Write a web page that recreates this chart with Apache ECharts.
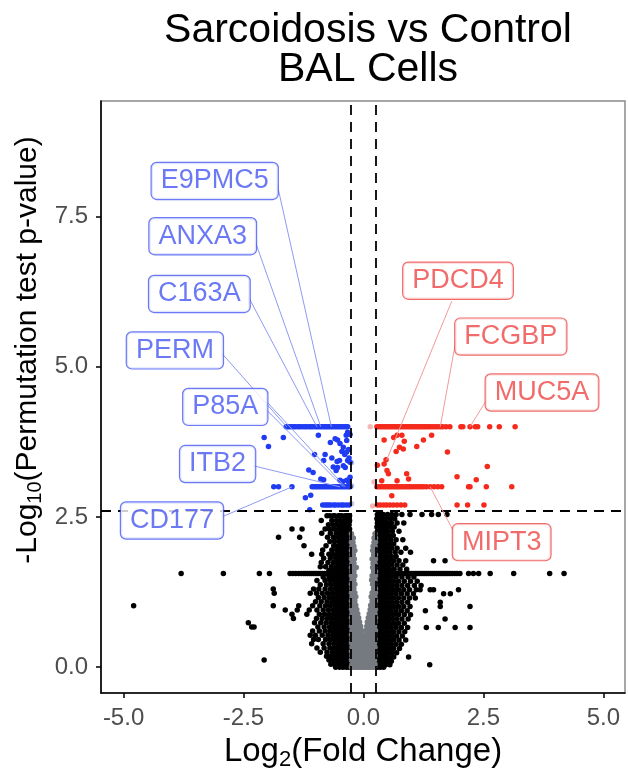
<!DOCTYPE html>
<html>
<head>
<meta charset="utf-8">
<script src="https://cdn.jsdelivr.net/npm/echarts@6/dist/echarts.min.js"></script>
<style>html,body{margin:0;padding:0;background:#fff}#c{width:628px;height:775px}</style>
</head>
<body>
<div id="c"></div>
<script>
// ---------- DATA ----------
const xTicks = [-5, -2.5, 0, 2.5, 5];
const yTicks = [0, 2.5, 5, 7.5];
const fcCut = 0.26;
const pCut = 2.6;

// Significant, down-regulated (blue): [x, y]
const blueRowTop = [-1.61,-1.57,-1.53,-1.49,-1.45,-1.41,-1.36,-1.32,-1.27,-1.22,-1.18,-1.13,-1.09,-1.05,-1.0,-0.96,-0.92,-0.88,-0.84,-0.8,-0.76,-0.72,-0.68,-0.64,-0.6,-0.56,-0.52,-0.48,-0.44,-0.4,-0.36,-0.33];
const blueRow3 = [-1.87,-1.77,-1.49,-1.07,-1.03,-0.99,-0.95,-0.91,-0.87,-0.83,-0.79,-0.75,-0.71,-0.67,-0.63,-0.59,-0.55,-0.51,-0.47,-0.43,-0.39,-0.35,-0.31,-0.28];
const blueRow27 = [-0.85,-0.8,-0.76,-0.72,-0.68,-0.62,-0.58,-0.52,-0.46,-0.42,-0.36,-0.3];
const blueScatter = [[-2.07,3.82],[-1.98,3.67],[-1.67,3.82],[-0.94,3.86],[-0.69,3.74],[-0.59,3.80],[-0.54,3.78],[-0.49,3.72],[-0.42,3.66],[-0.36,3.86],[-0.33,3.91],[-0.35,3.77],[-0.45,3.59],[-0.39,3.54],[-0.35,3.58],[-0.31,3.62],[-0.30,3.48],[-0.33,3.44],[-0.50,3.44],[-0.55,3.42],[-0.80,3.54],[-0.42,3.35],[-0.38,3.32],[-0.54,3.32],[-0.57,3.27],[-0.63,3.33],[-0.66,3.48],[-1.14,3.28],[-1.05,3.24],[-0.89,3.13],[-0.83,3.12],[-0.49,3.11],[-0.43,3.09],[-0.35,3.11],[-0.31,3.08],[-0.28,3.16],[-0.28,3.41],[-0.28,3.87],[-1.21,2.82],[-1.10,2.86],[-1.12,2.62],[-1.02,3.54],[-0.83,3.44]];

// Significant, up-regulated (red)
const redRowTop = [0.28,0.32,0.36,0.4,0.44,0.48,0.52,0.56,0.6,0.64,0.68,0.72,0.76,0.8,0.84,0.88,0.92,0.96,1.0,1.04,1.08,1.12,1.16,1.2,1.24,1.28,1.32,1.36,1.4,1.45,1.5,1.55,1.6,1.65,1.72,1.8,2.03,2.07,2.22,2.33,2.38,2.63,2.83,3.16];
const redRow3 = [0.28,0.32,0.36,0.4,0.44,0.48,0.52,0.56,0.6,0.64,0.68,0.72,0.76,0.8,0.84,0.88,0.92,0.96,1.0,1.05,1.1,1.15,1.2,1.25,1.31,1.39,1.47,1.55,1.63,2.19,2.22,2.56,3.09];
const redRow27 = [0.29,0.35,0.42,0.48,0.55,0.62,0.7,0.78,0.86,1.95,2.17,2.51];
const redScatter = [[0.43,3.78],[0.63,3.82],[0.70,3.86],[0.80,3.86],[0.85,3.76],[0.75,3.66],[0.83,3.63],[0.68,3.59],[1.11,3.67],[1.25,3.78],[1.42,3.86],[1.75,3.58],[0.47,3.45],[0.43,3.38],[0.29,3.36],[0.49,3.27],[0.52,3.22],[0.90,3.22],[0.94,3.13],[0.70,3.10],[0.38,3.10],[2.58,3.34],[1.95,3.17],[2.35,3.12],[0.59,2.85]];

// Points inside the fold-change cut but with a small p (faded)
const fadedRed = [[0.14,4.0],[0.22,3.08],[0.19,2.68]];
const fadedBlue = [[-0.25,3.40],[-0.25,3.02],[-0.25,2.72]];

// Not significant by p (black): rows [y, [x...]]
const blackLeftRows = [
[2.52,[-0.29,-0.33,-0.38,-0.45,-0.49,-0.52,-0.60,-0.63,-0.70,-0.76,-0.35]],
[2.44,[-0.29,-0.34,-0.40,-0.48,-0.56,-0.66,-0.88]],
[2.37,[-0.30,-0.35,-0.41,-0.47,-0.55,-0.63,-0.73]],
[2.30,[-0.29,-0.33,-0.38,-0.44,-0.52,-0.62,-0.71,-0.80,-1.28,-1.49]],
[2.23,[-0.30,-0.35,-0.42,-0.49,-0.57,-0.69,-0.87]],
[2.16,[-0.29,-0.34,-0.39,-0.46,-0.54,-0.63,-0.75,-1.33,-1.77]],
[2.09,[-0.30,-0.36,-0.43,-0.50,-0.60,-0.70]],
[2.02,[-0.29,-0.33,-0.39,-0.45,-0.53,-0.62,-0.78,-1.24]],
[1.95,[-0.30,-0.35,-0.41,-0.48,-0.56,-0.66,-0.85]],
[1.88,[-0.29,-0.34,-0.40,-0.47,-0.55,-0.64,-0.72,-0.87,-1.08]],
[1.81,[-0.30,-0.36,-0.43,-0.50,-0.58,-0.69,-0.83]],
[1.74,[-0.29,-0.33,-0.39,-0.46,-0.54,-0.63,-0.74,-0.88]],
[1.67,[-0.30,-0.35,-0.42,-0.49,-0.57,-0.67,-0.79,-0.90]],
[1.61,[-0.29,-0.34,-0.40,-0.47,-0.56,-0.65,-0.72]],
[1.56,[-0.29,-0.33,-0.37,-0.41,-0.45,-0.49,-0.53,-0.57,-0.61,-0.65,-0.69,-0.73,-0.77,-0.81,-0.85,-0.89,-0.93,-0.97,-1.01,-1.05,-1.09,-1.13,-1.17,-1.21,-1.25,-1.30,-1.35,-1.41,-1.47,-1.53,-1.96,-2.17,-2.92,-3.80]],
[1.50,[-0.30,-0.35,-0.41,-0.48,-0.55,-0.63,-0.72,-0.84]],
[1.44,[-0.29,-0.34,-0.40,-0.46,-0.53,-0.61,-0.70,-0.80,-0.97]],
[1.37,[-0.30,-0.36,-0.43,-0.50,-0.58,-0.67,-0.77,-0.90]],
[1.30,[-0.29,-0.33,-0.39,-0.45,-0.52,-0.60,-0.69,-0.80,-0.93,-1.04,-1.88]],
[1.23,[-0.30,-0.35,-0.41,-0.48,-0.56,-0.65,-0.75,-0.86,-0.98,-1.11,-1.86]],
[1.16,[-0.29,-0.34,-0.40,-0.46,-0.54,-0.62,-0.71,-0.82,-0.94]],
[1.09,[-0.30,-0.36,-0.42,-0.49,-0.57,-0.66,-0.76,-0.88,-1.00]],
[1.02,[-0.29,-0.33,-0.39,-0.45,-0.52,-0.60,-0.69,-0.79,-0.91,-1.06,-1.35,-1.88,-4.79]],
[0.95,[-0.30,-0.35,-0.41,-0.48,-0.55,-0.63,-0.73,-0.84,-0.97,-1.13,-1.38,-1.63]],
[0.88,[-0.29,-0.34,-0.40,-0.46,-0.54,-0.62,-0.71,-0.81,-0.92,-1.18,-1.49]],
[0.81,[-0.30,-0.36,-0.42,-0.49,-0.57,-0.66,-0.75,-0.86,-0.98,-1.46]],
[0.74,[-0.29,-0.33,-0.39,-0.45,-0.52,-0.60,-0.68,-0.78,-0.89,-1.02,-2.40]],
[0.67,[-0.30,-0.35,-0.41,-0.47,-0.54,-0.62,-0.71,-0.82,-0.95,-2.33,-2.28]],
[0.60,[-0.29,-0.34,-0.40,-0.46,-0.53,-0.61,-0.70,-0.80,-0.92,-1.06]],
[0.53,[-0.30,-0.36,-0.42,-0.49,-0.56,-0.64,-0.74,-0.86,-1.00,-1.11]],
[0.46,[-0.29,-0.33,-0.39,-0.45,-0.52,-0.60,-0.69,-0.79,-0.94,-1.04]],
[0.39,[-0.30,-0.35,-0.41,-0.47,-0.54,-0.62,-0.72,-0.84,-1.08]],
[0.32,[-0.29,-0.34,-0.40,-0.46,-0.53,-0.61,-0.70,-0.82,-0.97]],
[0.25,[-0.30,-0.36,-0.42,-0.49,-0.56,-0.65,-0.76,-0.90]],
[0.18,[-0.29,-0.33,-0.39,-0.45,-0.52,-0.60,-0.69,-0.77]],
[0.12,[-0.30,-0.35,-0.41,-0.47,-0.54,-0.63,-0.72,-2.07]],
[0.05,[-0.29,-0.34,-0.40,-0.46,-0.53,-0.60,-0.68]],
[0.00,[-0.30,-0.36,-0.43,-0.50,-0.58]]
];
const blackRightRows = [
[2.54,[0.29,0.35,0.41,0.50,0.59,0.68,0.80,0.97,1.22,1.42,1.56,1.74]],
[2.47,[0.28,0.33,0.39,0.47,0.56,0.65]],
[2.40,[0.29,0.34,0.41,0.49,0.58,0.70,0.84]],
[2.33,[0.28,0.33,0.39,0.46,0.55,0.64]],
[2.26,[0.29,0.35,0.42,0.50,0.60,0.74]],
[2.19,[0.28,0.33,0.38,0.45,0.53,0.62]],
[2.12,[0.29,0.34,0.40,0.48,0.57,0.68,0.82]],
[2.05,[0.28,0.33,0.39,0.46,0.54,0.63]],
[1.98,[0.29,0.35,0.42,0.50,0.59,0.70,0.88]],
[1.91,[0.28,0.33,0.39,0.46,0.55,0.66,0.78,0.98]],
[1.84,[0.29,0.34,0.41,0.49,0.58,0.68]],
[1.77,[0.28,0.33,0.39,0.46,0.54,0.63,0.74,0.88,1.46,1.70]],
[1.70,[0.29,0.35,0.42,0.50,0.59,0.70,0.82]],
[1.63,[0.28,0.33,0.39,0.46,0.54,0.64,0.76,0.90]],
[1.56,[0.28,0.32,0.36,0.40,0.44,0.48,0.52,0.56,0.60,0.64,0.68,0.72,0.76,0.80,0.84,0.88,0.92,0.96,1.00,1.04,1.08,1.12,1.16,1.20,1.24,1.28,1.32,1.36,1.40,1.44,1.48,1.52,1.56,1.60,1.64,1.68,1.72,1.76,1.80,1.85,1.90,1.95,2.01,2.19,2.29,2.40,2.64,3.13,3.88,4.18]],
[1.50,[0.29,0.34,0.41,0.49,0.58,0.68,0.80,0.93,1.05]],
[1.43,[0.28,0.33,0.39,0.46,0.54,0.63,0.73,0.85,0.98,1.12]],
[1.36,[0.29,0.35,0.42,0.50,0.59,0.69,0.80,0.92,1.06,1.20]],
[1.29,[0.28,0.33,0.39,0.46,0.54,0.63,0.73,0.84,0.96,1.10,1.18,1.39,1.46,1.98]],
[1.22,[0.29,0.34,0.41,0.49,0.58,0.68,0.79,0.91,1.04,1.67,1.81]],
[1.15,[0.28,0.33,0.39,0.46,0.54,0.63,0.73,0.84,0.96,1.08]],
[1.08,[0.29,0.35,0.42,0.50,0.59,0.69,0.80,0.92,1.60]],
[1.01,[0.28,0.33,0.39,0.46,0.54,0.63,0.73,0.84,0.97,1.60,2.22]],
[0.94,[0.29,0.34,0.41,0.49,0.58,0.68,0.79,0.91,1.29]],
[0.87,[0.28,0.33,0.39,0.46,0.54,0.63,0.73,0.85,0.98]],
[0.80,[0.29,0.35,0.42,0.50,0.59,0.69,0.80,0.93,1.70]],
[0.73,[0.28,0.33,0.39,0.46,0.54,0.63,0.73,0.85]],
[0.66,[0.29,0.34,0.41,0.49,0.58,0.68,0.79,0.92,1.31,1.56,1.91,2.22]],
[0.59,[0.28,0.33,0.39,0.46,0.54,0.63,0.74,0.86]],
[0.52,[0.29,0.35,0.42,0.50,0.59,0.69,0.81]],
[0.45,[0.28,0.33,0.39,0.46,0.54,0.63,0.74,0.88]],
[0.38,[0.29,0.34,0.41,0.49,0.58,0.68,0.79]],
[0.31,[0.28,0.33,0.39,0.46,0.54,0.63,0.75]],
[0.24,[0.29,0.35,0.42,0.50,0.59,0.69]],
[0.17,[0.28,0.33,0.39,0.46,0.54,0.63,0.94]],
[0.10,[0.29,0.34,0.41,0.49,0.58]],
[0.04,[0.28,0.33,0.39,0.46,0.55,1.38]],
[0.00,[0.29,0.35,0.42]]
];
// Inside fold-change cut (gray): rows [y, [x...]]
const grayRows = [
[2.22,[-0.25,0.24]],
[2.15,[-0.24,-0.21,0.22,0.25]],
[2.08,[-0.25,-0.22,0.22,0.25]],
[2.01,[-0.24,-0.20,0.20,0.24]],
[1.94,[-0.25,-0.22,-0.18,0.19,0.23]],
[1.87,[-0.24,-0.21,0.21,0.25]],
[1.80,[-0.25,-0.22,-0.19,0.18,0.22,0.25]],
[1.73,[-0.24,-0.20,0.20,0.24]],
[1.66,[-0.25,-0.22,-0.15,0.19,0.23]],
[1.59,[-0.24,-0.20,0.21,0.25]],
[1.52,[-0.25,-0.22,-0.18,0.18,0.22,0.25]],
[1.45,[-0.24,-0.20,0.17,0.20,0.24]],
[1.38,[-0.25,-0.22,-0.18,0.19,0.23]],
[1.31,[-0.24,-0.20,0.21,0.25]],
[1.24,[-0.25,-0.22,-0.18,0.18,0.22,0.25]],
[1.17,[-0.24,-0.20,-0.16,0.16,0.20,0.24]],
[1.10,[-0.25,-0.22,-0.18,0.18,0.22,0.25]],
[1.03,[-0.24,-0.20,-0.16,0.15,0.19,0.23]],
[0.96,[-0.25,-0.22,-0.18,-0.14,0.14,0.18,0.22,0.25]],
[0.89,[-0.24,-0.20,-0.16,-0.12,0.12,0.16,0.20,0.24]],
[0.82,[-0.25,-0.22,-0.18,-0.14,-0.10,0.10,0.14,0.18,0.22,0.25]],
[0.75,[-0.24,-0.20,-0.16,-0.12,-0.08,0.08,0.12,0.16,0.20,0.24]],
[0.68,[-0.25,-0.22,-0.18,-0.14,-0.10,-0.06,0.07,0.11,0.15,0.19,0.23]],
[0.61,[-0.24,-0.20,-0.16,-0.12,-0.08,-0.04,0.05,0.09,0.13,0.17,0.21,0.25]],
[0.54,[-0.25,-0.21,-0.17,-0.13,-0.09,-0.05,0.03,0.07,0.11,0.15,0.19,0.23]],
[0.47,[-0.24,-0.20,-0.16,-0.12,-0.08,-0.04,0.00,0.04,0.08,0.12,0.16,0.20,0.24]],
[0.40,[-0.25,-0.21,-0.17,-0.13,-0.09,-0.05,-0.01,0.03,0.07,0.11,0.15,0.19,0.23]],
[0.33,[-0.24,-0.20,-0.16,-0.12,-0.08,-0.04,0.00,0.04,0.08,0.12,0.16,0.20,0.24]],
[0.26,[-0.25,-0.21,-0.17,-0.13,-0.09,-0.05,-0.01,0.03,0.07,0.11,0.15,0.19,0.23]],
[0.19,[-0.24,-0.20,-0.16,-0.12,-0.08,-0.04,0.00,0.04,0.08,0.12,0.16,0.20,0.24]],
[0.12,[-0.25,-0.21,-0.17,-0.13,-0.09,-0.05,-0.01,0.03,0.07,0.11,0.15,0.19,0.23]],
[0.05,[-0.24,-0.20,-0.16,-0.12,-0.08,-0.04,0.00,0.04,0.08,0.12,0.16,0.20,0.24]],
[0.00,[-0.25,-0.21,-0.17,-0.13,-0.09,-0.05,-0.01,0.03,0.07,0.11,0.15,0.19,0.23]]
];

// Labelled genes
const geneNames = ['E9PMC5','ANXA3','C163A','PERM','P85A','ITB2','CD177','PDCD4','FCGBP','MUC5A','MIPT3'];
const geneDir = ['down','down','down','down','down','down','down','up','up','up','up'];
const genePoint = [[-0.67,4.0],[-0.89,4.0],[-0.97,4.0],[-1.60,4.0],[-0.38,3.0],[-0.49,3.0],[-1.49,3.0],[0.48,3.44],[1.60,4.0],[2.22,4.0],[1.39,3.0]];
const labelAt = [[-3.10,8.09],[-3.35,7.17],[-3.42,6.21],[-3.93,5.27],[-2.88,4.33],[-3.04,3.38],[-3.99,2.44],[1.97,6.43],[3.07,5.50],[3.72,4.57],[2.88,2.08]];
const leaderFrom = [[-1.80,8.04],[-2.26,7.09],[-2.39,6.15],[-2.95,5.22],[-2.02,4.42],[-2.29,3.35],[-2.95,2.50],[1.84,6.09],[1.93,5.45],[2.57,4.45],[1.89,2.24]];

// ---------- BUILD ----------
const FONT = '"Liberation Sans", Arial, Helvetica, sans-serif';
const BLUE = '#1f3cf2', RED = '#f52a1c', GRAY = '#767a80';
const LBLUE = '#4658f2', LRED = '#ef4646';
const rowsToPts = rows => rows.flatMap(([y, xs]) => xs.map(x => [x, y]));
const bluePts = blueRowTop.map(x => [x, 4.0]).concat(blueRow3.map(x => [x, 3.0]), blueRow27.map(x => [x, 2.7]), blueScatter);
const redPts = redRowTop.map(x => [x, 4.0]).concat(redRow3.map(x => [x, 3.0]), redRow27.map(x => [x, 2.7]), redScatter);
const blackPts = rowsToPts(blackLeftRows).concat(rowsToPts(blackRightRows));
const grayPts = rowsToPts(grayRows);

const chart = echarts.init(document.getElementById('c'), null, {renderer: 'canvas'});
const dot = 5.5;
const GL = 101, GR = 3, GT = 101, GB = 82;
chart.setOption({
  animation: false,
  backgroundColor: '#fff',
  title: {
    text: 'Sarcoidosis vs Control\nBAL Cells',
    left: 363, top: 6, textAlign: 'center',
    textStyle: {fontFamily: FONT, fontSize: 41, fontWeight: 'normal', color: '#000', lineHeight: 39}
  },
  grid: {left: GL, right: GR, top: GT, bottom: GB, show: true, borderColor: '#8a8a8a', borderWidth: 1.5, containLabel: false, outerBoundsMode: 'none'},
  graphic: [
    {type: 'text', x: 363, y: 752, z: 20,
      style: {text: '{a|Log}{s|2}{a|(Fold Change)}', align: 'center', verticalAlign: 'middle',
        rich: {a: {fontFamily: FONT, fontSize: 33, fill: '#000', lineHeight: 36}, s: {fontFamily: FONT, fontSize: 22, fill: '#000', lineHeight: 36, padding: [16, 0, 0, 0]}}}},
    {type: 'text', x: 28, y: 350, rotation: Math.PI / 2, z: 20,
      style: {text: '{a|-Log}{s|10}{a|(Permutation test p-value)}', align: 'center', verticalAlign: 'middle',
        rich: {a: {fontFamily: FONT, fontSize: 30, fill: '#000', lineHeight: 34}, s: {fontFamily: FONT, fontSize: 20, fill: '#000', lineHeight: 34, padding: [14, 0, 0, 0]}}}}
  ],
  xAxis: {
    type: 'value', min: -5.47, max: 5.45,
    axisLine: {show: true, onZero: false, lineStyle: {color: '#000', width: 1.6}},
    axisTick: {show: true, customValues: xTicks, length: 5, lineStyle: {color: '#000', width: 1.5}},
    axisLabel: {customValues: xTicks, formatter: v => v.toFixed(1), color: '#4d4d4d', fontSize: 24, fontFamily: FONT, margin: 13},
    splitLine: {show: false}
  },
  yAxis: {
    type: 'value', min: -0.43, max: 9.42,
    axisLine: {show: true, onZero: false, lineStyle: {color: '#000', width: 1.6}},
    axisTick: {show: true, customValues: yTicks, length: 5, lineStyle: {color: '#000', width: 1.5}},
    axisLabel: {customValues: yTicks, formatter: v => v.toFixed(1), color: '#4d4d4d', fontSize: 24, fontFamily: FONT, margin: 13},
    splitLine: {show: false}
  },
  series: [
    {type: 'scatter', name: 'black', data: blackPts, symbolSize: dot, itemStyle: {color: '#000', opacity: 1}, z: 2, silent: true},
    {type: 'scatter', name: 'gray', data: grayPts, symbolSize: dot, itemStyle: {color: GRAY, opacity: 1}, z: 3, silent: true},
    {type: 'scatter', name: 'fadedUp', data: fadedRed, symbolSize: dot, itemStyle: {color: '#f0a9a3'}, z: 3, silent: true},
    {type: 'scatter', name: 'fadedDown', data: fadedBlue, symbolSize: dot, itemStyle: {color: '#a9b1cf'}, z: 3, silent: true},
    {type: 'scatter', name: 'down', data: bluePts, symbolSize: dot, itemStyle: {color: BLUE, opacity: 1}, z: 3, silent: true},
    {type: 'scatter', name: 'up', data: redPts, symbolSize: dot, itemStyle: {color: RED, opacity: 1}, z: 3, silent: true},
    {type: 'scatter', name: 'cuts', data: [], z: 4, silent: true,
      markLine: {silent: true, symbol: ['none', 'none'], label: {show: false},
        lineStyle: {color: '#000', type: [10, 7], width: 1.8},
        data: [{xAxis: -fcCut}, {xAxis: fcCut}, {yAxis: pCut}]}},
    {type: 'lines', coordinateSystem: 'cartesian2d', z: 5, silent: true,
      data: geneNames.map((g, i) => ({coords: [leaderFrom[i], genePoint[i]], lineStyle: {color: geneDir[i] === 'down' ? '#8e9af5' : '#f59a9a', width: 1, opacity: 1}})).concat([{coords: [[-2.02, 4.28], [-0.42, 3.0]], lineStyle: {color: '#8e9af5', width: 1, opacity: 1}}])},
    {type: 'scatter', name: 'labels', z: 10, silent: true, symbolSize: 1, itemStyle: {color: 'rgba(0,0,0,0)'},
      data: geneNames.map((g, i) => ({name: g, value: labelAt[i],
        label: {color: geneDir[i] === 'down' ? LBLUE : LRED, borderColor: geneDir[i] === 'down' ? LBLUE : LRED}})),
      label: {show: true, position: 'inside', formatter: '{b}', fontFamily: FONT, fontSize: 27, lineHeight: 27, backgroundColor: '#fff', borderWidth: 1.2, borderRadius: 5, padding: [5, 9, 4, 9]},
      labelLayout: {hideOverlap: false}}
  ]
});
</script>
</body>
</html>
